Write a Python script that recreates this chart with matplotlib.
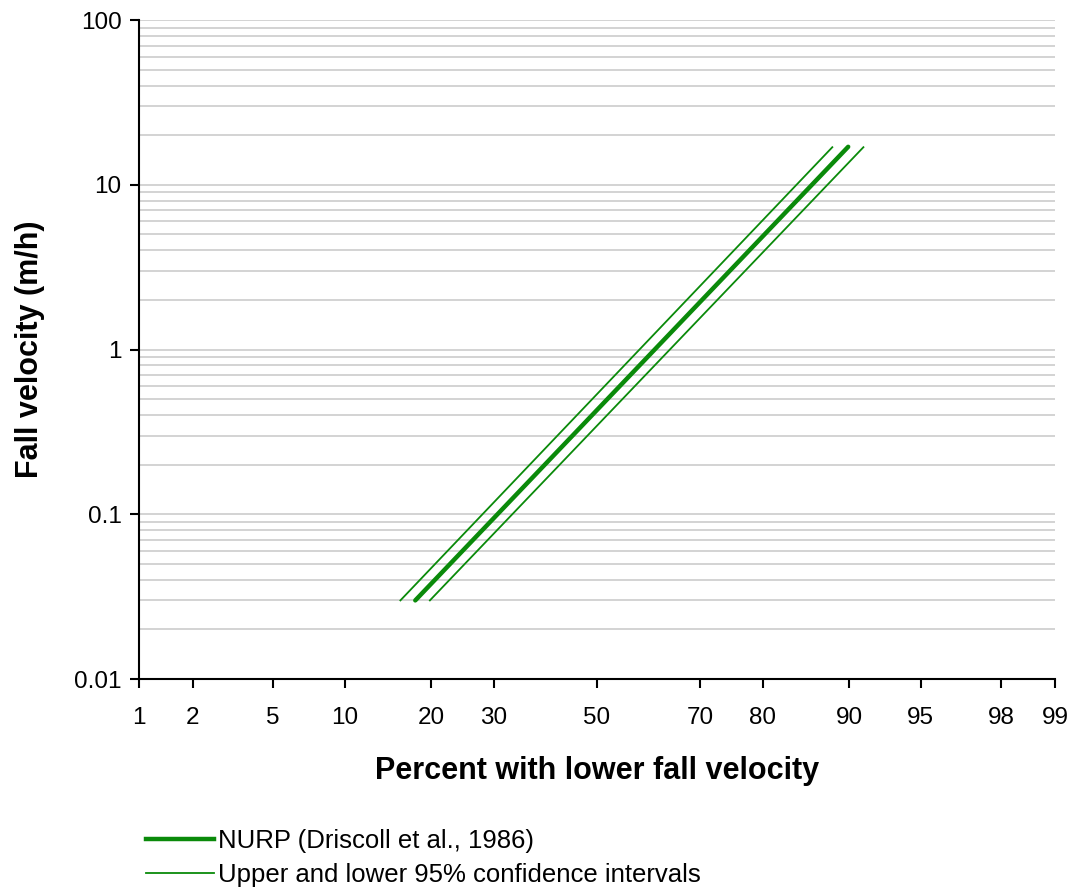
import numpy as np
import matplotlib
matplotlib.use("Agg")
import matplotlib.pyplot as plt
from matplotlib.lines import Line2D
from statistics import NormalDist
import math

# ---- data ----
nurp_pct = [17.8, 89.9]
nurp_vel = [0.03, 17.0]
upper_pct = [15.9, 88.4]
upper_vel = [0.03, 16.9]
lower_pct = [19.8, 91.2]
lower_vel = [0.03, 16.9]
x_ticks = [1, 2, 5, 10, 20, 30, 50, 70, 80, 90, 95, 98, 99]
y_ticks = [0.01, 0.1, 1, 10, 100]
y_tick_labels = ["0.01", "0.1", "1", "10", "100"]

_nd = NormalDist()

def _fwd(p):
    p = np.asarray(p, dtype=float)
    q = np.clip(p / 100.0, 1e-9, 1 - 1e-9)
    return np.vectorize(_nd.inv_cdf, otypes=[float])(q) if q.size else q

def _inv(z):
    z = np.asarray(z, dtype=float)
    return np.vectorize(lambda v: 100.0 * 0.5 * (1 + math.erf(v / math.sqrt(2))), otypes=[float])(z) if z.size else z

plt.rcParams['font.family'] = ['Liberation Sans', 'DejaVu Sans']

fig = plt.figure(figsize=(10.72, 8.88), dpi=100)
ax = fig.add_axes([139/1072, 1 - 679/888, (1055 - 139)/1072, (679 - 20)/888])

ax.set_xscale('function', functions=(_fwd, _inv))
ax.set_yscale('log')
ax.set_xlim(1, 99)
ax.set_ylim(0.01, 100)

green = '#0a8a0a'
ax.plot(nurp_pct, nurp_vel, color=green, lw=3.2, solid_capstyle='round', zorder=3)
ax.plot(upper_pct, upper_vel, color=green, lw=1.3, zorder=3)
ax.plot(lower_pct, lower_vel, color=green, lw=1.3, zorder=3)

# gridlines
ax.yaxis.grid(True, which='both', color='#c8c8c8', lw=1.1)
ax.xaxis.grid(False)
ax.set_axisbelow(True)

ax.set_xticks(x_ticks)
ax.set_xticklabels([str(t) for t in x_ticks])
ax.xaxis.set_minor_locator(matplotlib.ticker.NullLocator())
ax.set_yticks(y_ticks)
ax.set_yticklabels(y_tick_labels)
ax.tick_params(axis='both', which='major', direction='out', length=6.5, width=1.5,
               labelsize=17.5, color='black')
ax.tick_params(axis='x', which='major', pad=14)
ax.tick_params(axis='y', which='major', pad=6)
ax.tick_params(axis='y', which='minor', length=0)

for s in ['top', 'right']:
    ax.spines[s].set_visible(False)
for s in ['left', 'bottom']:
    ax.spines[s].set_linewidth(1.5)

ax.set_xlabel('Percent with lower fall velocity', fontsize=22, fontweight='bold', labelpad=19)
ax.set_ylabel('Fall velocity (m/h)', fontsize=22, fontweight='bold', labelpad=21)

handles = [Line2D([], [], color=green, lw=3.2),
           Line2D([], [], color=green, lw=1.3)]
labels = ['NURP (Driscoll et al., 1986)', 'Upper and lower 95% confidence intervals']
fig.legend(handles, labels, loc='upper left', bbox_to_anchor=(146/1072, 1 - 829/888),
           frameon=False, fontsize=18.5, handlelength=2.65, handletextpad=0.16,
           labelspacing=0.37, borderaxespad=0, borderpad=0)

fig.savefig('out.png', dpi=100)
